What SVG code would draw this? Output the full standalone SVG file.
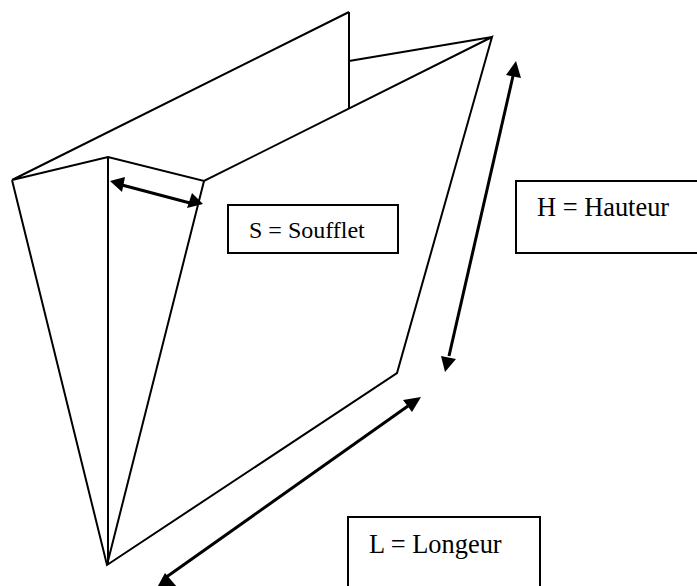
<svg xmlns="http://www.w3.org/2000/svg" width="697" height="586" viewBox="0 0 697 586">
<style>
.l{fill:none;stroke:#000;stroke-width:2;stroke-linejoin:miter}
.a{fill:none;stroke:#000;stroke-width:3}
.h{fill:#000;stroke:none}
.b{fill:#fff;stroke:#000;stroke-width:2}
text{font-family:"Liberation Serif","Times New Roman",serif;font-size:26.4px;fill:#000}
</style>
<rect width="697" height="586" fill="#fff"/>
<g id="connectors">
<path class="l" d="M349 12V109M349 61L492 37M12 180L349 12M12 180L108 157L204 181L492 37L397 373L107 565L12 180M108 157V565M107 565L204 181"/>
<path class="a" d="M122 185L190 203"/>
<polygon class="h" points="110,181 125,177 122,192"/>
<polygon class="h" points="203,204 192,193 187,208"/>
<path class="a" d="M513 76L449 356"/>
<polygon class="h" points="516,61 521,78 506,75"/>
<polygon class="h" points="445,372 441,356 456,359"/>
<path class="a" d="M408 406L165 578"/>
<polygon class="h" points="421,397 412,412 403,400"/>
<polygon class="h" points="153,595 165,573 177,587"/>
</g>
<g id="node-s"><rect class="b" x="228" y="205" width="170" height="48"/><text x="249" y="238" style="font-size:24px">S = Soufflet</text></g>
<g id="node-h"><rect class="b" x="516" y="181" width="183" height="72"/><text x="537" y="216">H = Hauteur</text></g>
<g id="node-l"><rect class="b" x="348" y="517" width="192" height="72"/><text x="369" y="553">L = Longeur</text></g>
</svg>
